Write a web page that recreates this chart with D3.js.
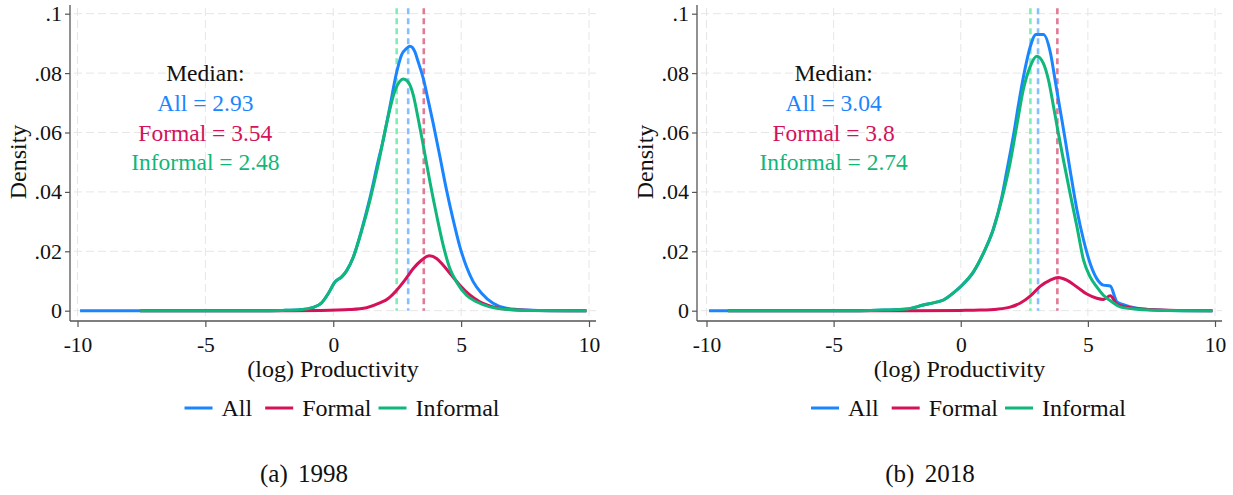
<!DOCTYPE html>
<html><head><meta charset="utf-8">
<script src="https://cdn.jsdelivr.net/npm/d3@7"></script>
<style>
body{margin:0;background:#fff;}
svg{display:block;}
text{font-family:"Liberation Serif","Times New Roman",serif;}
</style>
</head><body>
<svg id="c" width="1233" height="495"></svg>
<script>
// ---------- data ----------
const xTicks = [-10, -5, 0, 5, 10];
const xTickLabels = ["-10", "-5", "0", "5", "10"];
const yTicks = [0, 0.02, 0.04, 0.06, 0.08, 0.1];
const yTickLabels = ["0", ".02", ".04", ".06", ".08", ".1"];
const seriesNames = ["All", "Formal", "Informal"];
const captions = ["(a) 1998", "(b) 2018"];
const medians1998 = [2.93, 3.54, 2.48];
const medians2018 = [3.04, 3.8, 2.74];

const all1998 = [[-9.9,0],[-7.55,0],[-3,0],[-2,0.0001],[-1.3,0.0003],[-0.78,0.0011],[-0.45,0.0027],[-0.2,0.0057],[0.07,0.0097],[0.33,0.0114],[0.52,0.0134],[0.78,0.018],[1.11,0.0272],[1.43,0.0378],[1.76,0.0505],[1.95,0.0573],[2.21,0.0685],[2.48,0.0803],[2.67,0.0861],[2.87,0.0883],[3.0,0.089],[3.1,0.0886],[3.19,0.0872],[3.32,0.0838],[3.52,0.0782],[3.71,0.0709],[3.91,0.063],[4.17,0.0519],[4.43,0.0406],[4.69,0.0306],[4.95,0.0216],[5.21,0.0148],[5.47,0.0098],[5.8,0.0059],[6.25,0.0025],[6.77,0.0008],[7.55,0.0002],[8.5,0],[9.9,0]];
const formal1998 = [[-7.55,0],[-2,0],[-0.5,0.0001],[0.65,0.0004],[1.3,0.001],[1.82,0.0026],[2.15,0.0041],[2.48,0.0069],[2.8,0.0103],[3.13,0.0142],[3.45,0.017],[3.75,0.0185],[4.04,0.0176],[4.3,0.0153],[4.62,0.012],[4.95,0.0086],[5.34,0.0053],[5.73,0.003],[6.25,0.0013],[6.9,0.0004],[7.8,0.0001],[9.9,0]];
const informal1998 = [[-7.55,0],[-3,0],[-2,0.0001],[-1.3,0.0003],[-0.78,0.0011],[-0.45,0.0027],[-0.2,0.0057],[0.07,0.0097],[0.33,0.0114],[0.52,0.0134],[0.78,0.0179],[1.11,0.0269],[1.43,0.037],[1.76,0.0493],[2.08,0.0628],[2.41,0.074],[2.6,0.0772],[2.73,0.078],[2.93,0.077],[3.13,0.0726],[3.32,0.0647],[3.52,0.0557],[3.78,0.0434],[4.04,0.0322],[4.3,0.022],[4.56,0.0142],[4.82,0.0097],[5.21,0.0052],[5.6,0.003],[6.12,0.0013],[6.77,0.0005],[7.5,0.0001],[9.9,0]];

const all2018 = [[-9.9,0],[-9.16,0],[-4,0],[-3,0.0002],[-2.1,0.0006],[-1.47,0.0019],[-1.0,0.0028],[-0.68,0.0036],[-0.29,0.006],[0.04,0.0085],[0.5,0.013],[0.89,0.0193],[1.28,0.0275],[1.61,0.038],[1.81,0.047],[2.07,0.0589],[2.33,0.0724],[2.53,0.0815],[2.73,0.0888],[2.96,0.093],[3.25,0.093],[3.52,0.0871],[3.71,0.0777],[3.91,0.0676],[4.11,0.0575],[4.3,0.0474],[4.57,0.0339],[4.83,0.0238],[5.09,0.0159],[5.35,0.0108],[5.61,0.0086],[5.88,0.0083],[6.14,0.003],[6.4,0.002],[6.93,0.0008],[7.7,0.0002],[8.7,0],[9.9,0]];
const formal2018 = [[-9.16,0],[-2,0],[0,0.0001],[0.76,0.0002],[1.42,0.0005],[1.94,0.0012],[2.33,0.0025],[2.73,0.0049],[3.12,0.0082],[3.52,0.0103],[3.84,0.0112],[4.17,0.0103],[4.57,0.008],[4.96,0.0056],[5.35,0.0042],[5.61,0.0038],[5.88,0.005],[6.14,0.0022],[6.67,0.001],[7.45,0.0004],[8.5,0.0001],[9.9,0]];
const informal2018 = [[-9.16,0],[-4,0],[-3,0.0002],[-2.1,0.0006],[-1.47,0.0019],[-1.0,0.0028],[-0.68,0.0036],[-0.29,0.006],[0.04,0.0085],[0.5,0.0132],[0.89,0.0194],[1.28,0.0273],[1.61,0.0374],[1.94,0.0497],[2.2,0.0621],[2.46,0.0744],[2.73,0.0822],[2.99,0.0857],[3.25,0.0833],[3.45,0.0777],[3.65,0.0687],[3.84,0.0597],[4.04,0.0507],[4.3,0.0395],[4.57,0.0283],[4.83,0.017],[5.09,0.0114],[5.35,0.008],[5.61,0.0052],[5.94,0.003],[6.27,0.0013],[6.93,0.0005],[8,0.0001],[9.9,0]];

const colors = ["#1a85ff", "#d41159", "#0fb77a"];
const medianColors = ["#84c0ff", "#e27a95", "#7cf0b4"];

// ---------- drawing ----------
const svg = d3.select("#c");
const INK = "#111";

const panels = [
  {axisX: 70, right: 596, xr: [77.5, 589], series: [all1998, formal1998, informal1998], medians: medians1998, caption: captions[0], capX: 304, yLabX: 18},
  {axisX: 697, right: 1222, xr: [706.5, 1215], series: [all2018, formal2018, informal2018], medians: medians2018, caption: captions[1], capX: 930, yLabX: 645}
];

const yScale = d3.scaleLinear().domain([0, 0.1]).range([310.7, 13.7]);
const axisY = 321;

panels.forEach(p => {
  const g = svg.append("g");
  const x = d3.scaleLinear().domain([-10, 10]).range(p.xr);

  // gridlines
  g.selectAll(".hg").data(yTicks).join("line")
    .attr("x1", p.axisX + 4).attr("x2", p.right)
    .attr("y1", d => yScale(d)).attr("y2", d => yScale(d))
    .attr("stroke", "#e6e6e6").attr("stroke-width", 1).attr("stroke-dasharray", "8,4");
  g.selectAll(".vg").data(xTicks).join("line")
    .attr("x1", d => x(d)).attr("x2", d => x(d))
    .attr("y1", 8).attr("y2", axisY - 2)
    .attr("stroke", "#e6e6e6").attr("stroke-width", 1).attr("stroke-dasharray", "8,4");

  // axes
  const ya = d3.axisLeft(yScale).tickValues(yTicks).tickFormat((d, i) => yTickLabels[i]).tickSize(5).tickPadding(3);
  const yg = g.append("g").attr("transform", `translate(${p.axisX},0)`).call(ya);
  yg.select(".domain").remove();
  yg.append("line").attr("x1", 0).attr("x2", 0).attr("y1", 5).attr("y2", axisY).attr("stroke", "#555").attr("stroke-width", 1.3);
  yg.selectAll(".tick line").attr("stroke", "#555").attr("stroke-width", 1.2);
  yg.selectAll(".tick text").style("font-size", "22px").style("fill", INK).style("font-family", "Liberation Serif");

  const xa = d3.axisBottom(x).tickValues(xTicks).tickFormat((d, i) => xTickLabels[i]).tickSize(6).tickPadding(10);
  const xg = g.append("g").attr("transform", `translate(0,${axisY})`).call(xa);
  xg.select(".domain").remove();
  xg.append("line").attr("x1", p.axisX).attr("x2", p.right).attr("y1", 0).attr("y2", 0).attr("stroke", "#555").attr("stroke-width", 1.3);
  xg.selectAll(".tick line").attr("stroke", "#555").attr("stroke-width", 1.2);
  xg.selectAll(".tick text").style("font-size", "21.5px").style("fill", INK).style("font-family", "Liberation Serif");

  // axis titles
  g.append("text").attr("x", (p.axisX + p.right) / 2).attr("y", 377).attr("text-anchor", "middle")
    .style("font-size", "24px").style("fill", INK).text("(log) Productivity");
  g.append("text").attr("transform", `translate(${p.yLabX + 8},162) rotate(-90)`).attr("text-anchor", "middle")
    .style("font-size", "24px").style("fill", INK).text("Density");

  // median lines
  g.selectAll(".med").data(p.medians).join("line")
    .attr("x1", d => x(d)).attr("x2", d => x(d))
    .attr("y1", yScale(0.1018)).attr("y2", yScale(0))
    .attr("stroke", (d, i) => medianColors[i]).attr("stroke-width", 2.6).attr("stroke-dasharray", "6,4");

  // curves
  const line = d3.line().x(d => x(d[0])).y(d => yScale(d[1])).curve(d3.curveMonotoneX);
  p.series.forEach((s, i) => {
    g.append("path").datum(s).attr("d", line).attr("fill", "none")
      .attr("stroke", colors[i]).attr("stroke-width", 3).attr("stroke-linejoin", "round");
  });

  // annotation
  const ann = ["Median:"].concat(seriesNames.map((n, i) => `${n} = ${p.medians[i]}`));
  const annY = [0.08, 0.07, 0.06, 0.05];
  g.selectAll(".ann").data(ann).join("text")
    .attr("x", x(-5)).attr("y", (d, i) => yScale(annY[i])).attr("dy", "0.35em")
    .attr("text-anchor", "middle").style("font-size", "23.5px")
    .style("fill", (d, i) => i === 0 ? INK : colors[i - 1]).text(d => d);

  // legend
  const lg = g.append("g");
  let cx = 0;
  seriesNames.forEach((n, i) => {
    const it = lg.append("g");
    it.append("line").attr("x1", cx).attr("x2", cx + 28).attr("y1", 0).attr("y2", 0)
      .attr("stroke", colors[i]).attr("stroke-width", 3);
    const t = it.append("text").attr("x", cx + 37).attr("y", 7.5).style("font-size", "24px").style("fill", INK).text(n);
    cx += 37 + t.node().getComputedTextLength() + (i === 0 ? 13 : 7);
  });
  const totalW = cx - 7;
  const center = (p.axisX + p.right) / 2 + 9;
  lg.attr("transform", `translate(${center - totalW / 2},408)`);

  // caption
  svg.append("text").attr("x", p.capX).attr("y", 482).attr("text-anchor", "middle")
    .style("font-size", "25px").style("fill", INK).style("word-spacing", "4px").text(p.caption);
});
</script>
</body></html>
